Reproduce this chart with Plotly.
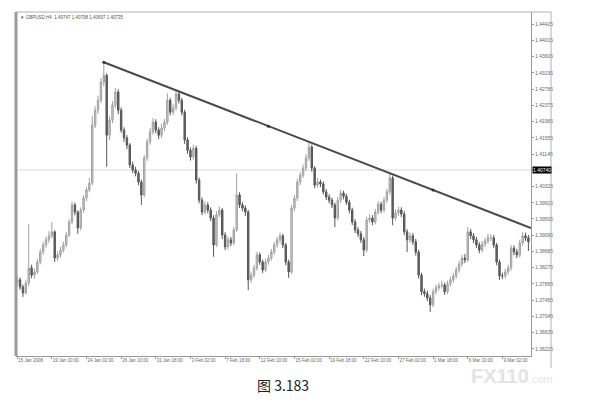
import plotly.graph_objects as go

# ---------------- data ----------------
first_open = 1.3790
closes = [
    1.3797, 1.3779, 1.3764, 1.3789, 1.3827, 1.3809, 1.3817, 1.3842, 1.3867, 1.3885,
    1.3898, 1.3908, 1.3918, 1.3852, 1.3860, 1.3872, 1.3885, 1.3910, 1.3943, 1.3986,
    1.3968, 1.3928, 1.3973, 1.4003, 1.4024, 1.4041, 1.4187, 1.4225, 1.4250, 1.4296,
    1.4313, 1.4162, 1.4200, 1.4238, 1.4271, 1.4225, 1.4175, 1.4155, 1.4137, 1.4087,
    1.4074, 1.4066, 1.4044, 1.4011, 1.4104, 1.4145, 1.4170, 1.4195, 1.4175, 1.4162,
    1.4180, 1.4195, 1.4250, 1.4220, 1.4230, 1.4266, 1.4250, 1.4220, 1.4150, 1.4124,
    1.4107, 1.4129, 1.4049, 1.3998, 1.3968, 1.3986, 1.3973, 1.3953, 1.3885, 1.3961,
    1.3973, 1.3910, 1.3880, 1.3898, 1.3890, 1.3923, 1.4011, 1.3986, 1.3978, 1.3968,
    1.3797, 1.3809, 1.3827, 1.3860, 1.3842, 1.3822, 1.3842, 1.3852, 1.3867, 1.3885,
    1.3898, 1.3908, 1.3885, 1.3842, 1.3817, 1.3978, 1.4003, 1.4044, 1.4061, 1.4079,
    1.4104, 1.4132, 1.4079, 1.4036, 1.4044, 1.4039, 1.4019, 1.4006, 1.3998, 1.3986,
    1.3953, 1.3998, 1.4016, 1.4008, 1.3993, 1.3973, 1.3943, 1.3923, 1.3913, 1.3898,
    1.3872, 1.3948, 1.3953, 1.3943, 1.3968, 1.3988, 1.3973, 1.3998, 1.4019, 1.4054,
    1.3953, 1.3966, 1.3973, 1.3963, 1.3918, 1.3898, 1.3908, 1.3893, 1.3867, 1.3809,
    1.3767, 1.3762, 1.3751, 1.3734, 1.3767, 1.3777, 1.3782, 1.3784, 1.3767, 1.3787,
    1.3797, 1.3807, 1.3822, 1.3837, 1.3852, 1.3847, 1.3918, 1.3908, 1.3898, 1.3885,
    1.3872, 1.3887, 1.3895, 1.3903, 1.3903, 1.3885, 1.3842, 1.3807, 1.3807, 1.3817,
    1.3827, 1.3877, 1.3867, 1.3860, 1.3890, 1.3908, 1.3903, 1.3893,
]
highs = [
    1.3806, 1.3803, 1.3785, 1.3796, 1.3938, 1.3835, 1.3825, 1.3850, 1.3875, 1.3893,
    1.3906, 1.3920, 1.3943, 1.3922, 1.3868, 1.3880, 1.3893, 1.3918, 1.3950, 1.3994,
    1.3992, 1.3972, 1.3980, 1.4011, 1.4031, 1.4054, 1.4210, 1.4235, 1.4262, 1.4306,
    1.4346, 1.4318, 1.4210, 1.4248, 1.4281, 1.4278, 1.4232, 1.4182, 1.4162, 1.4142,
    1.4095, 1.4082, 1.4072, 1.4050, 1.4112, 1.4153, 1.4180, 1.4205, 1.4202, 1.4182,
    1.4190, 1.4203, 1.4268, 1.4256, 1.4240, 1.4278, 1.4273, 1.4256, 1.4226, 1.4157,
    1.4131, 1.4138, 1.4135, 1.4055, 1.4005, 1.3995, 1.3993, 1.3980, 1.3960, 1.3970,
    1.3982, 1.3978, 1.3917, 1.3906, 1.3905, 1.3930, 1.4066, 1.4018, 1.3993, 1.3985,
    1.3973, 1.3818, 1.3835, 1.3868, 1.3866, 1.3848, 1.3850, 1.3860, 1.3875, 1.3893,
    1.3906, 1.3916, 1.3913, 1.3890, 1.3848, 1.3986, 1.4011, 1.4052, 1.4069, 1.4088,
    1.4114, 1.4145, 1.4138, 1.4084, 1.4054, 1.4050, 1.4045, 1.4026, 1.4013, 1.4004,
    1.3992, 1.4006, 1.4024, 1.4022, 1.4014, 1.3999, 1.3979, 1.3950, 1.3930, 1.3920,
    1.3905, 1.3956, 1.3962, 1.3960, 1.3976, 1.3996, 1.3994, 1.4006, 1.4027, 1.4066,
    1.4060, 1.3975, 1.3981, 1.3980, 1.3970, 1.3925, 1.3916, 1.3915, 1.3900, 1.3873,
    1.3815, 1.3775, 1.3770, 1.3758, 1.3775, 1.3785, 1.3790, 1.3795, 1.3790, 1.3795,
    1.3805, 1.3815, 1.3830, 1.3845, 1.3860, 1.3862, 1.3930, 1.3925, 1.3915, 1.3905,
    1.3892, 1.3895, 1.3903, 1.3913, 1.3912, 1.3910, 1.3890, 1.3848, 1.3815, 1.3825,
    1.3835, 1.3885, 1.3884, 1.3875, 1.3898, 1.3918, 1.3916, 1.3910,
]
lows = [
    1.3782, 1.3772, 1.3754, 1.3760, 1.3782, 1.3801, 1.3800, 1.3812, 1.3836, 1.3860,
    1.3878, 1.3890, 1.3902, 1.3842, 1.3845, 1.3853, 1.3866, 1.3879, 1.3905, 1.3938,
    1.3960, 1.3913, 1.3922, 1.3966, 1.3996, 1.4018, 1.4036, 1.4180, 1.4215, 1.4243,
    1.4285, 1.4082, 1.4150, 1.4192, 1.4230, 1.4215, 1.4168, 1.4145, 1.4127, 1.4079,
    1.4066, 1.4058, 1.4036, 1.3986, 1.4005, 1.4097, 1.4138, 1.4163, 1.4167, 1.4152,
    1.4155, 1.4172, 1.4188, 1.4212, 1.4213, 1.4224, 1.4242, 1.4212, 1.4140, 1.4115,
    1.4098, 1.4100, 1.4040, 1.3990, 1.3960, 1.3962, 1.3965, 1.3945, 1.3855, 1.3880,
    1.3955, 1.3900, 1.3872, 1.3873, 1.3882, 1.3884, 1.3918, 1.3978, 1.3970, 1.3958,
    1.3771, 1.3789, 1.3802, 1.3820, 1.3835, 1.3814, 1.3816, 1.3835, 1.3845, 1.3860,
    1.3878, 1.3890, 1.3877, 1.3834, 1.3802, 1.3812, 1.3970, 1.3996, 1.4036, 1.4054,
    1.4072, 1.4097, 1.4070, 1.4028, 1.4030, 1.4031, 1.4012, 1.3998, 1.3990, 1.3978,
    1.3930, 1.3947, 1.3991, 1.4000, 1.3986, 1.3965, 1.3935, 1.3915, 1.3905, 1.3890,
    1.3857, 1.3866, 1.3940, 1.3935, 1.3937, 1.3961, 1.3965, 1.3967, 1.3991, 1.4012,
    1.3935, 1.3946, 1.3958, 1.3955, 1.3910, 1.3867, 1.3890, 1.3885, 1.3858, 1.3800,
    1.3758, 1.3754, 1.3743, 1.3716, 1.3728, 1.3760, 1.3770, 1.3775, 1.3759, 1.3761,
    1.3780, 1.3790, 1.3800, 1.3815, 1.3830, 1.3839, 1.3842, 1.3900, 1.3890, 1.3877,
    1.3864, 1.3866, 1.3880, 1.3888, 1.3895, 1.3877, 1.3834, 1.3797, 1.3799, 1.3800,
    1.3810, 1.3820, 1.3859, 1.3852, 1.3853, 1.3883, 1.3895, 1.3870,
]
opens = [first_open] + closes[:-1]
bars = list(range(len(closes)))

time_tick_bars = [0, 12, 24, 36, 48, 60, 72, 84, 96, 108, 120, 132, 144, 156, 168]
time_tick_text = ["15 Jan 2008", "19 Jan 10:00", "24 Jan 02:00", "26 Jan 10:00",
                  "31 Jan 18:00", "3 Feb 02:00", "7 Feb 18:00", "12 Feb 10:00",
                  "15 Feb 02:00", "19 Feb 18:00", "22 Feb 10:00", "27 Feb 02:00",
                  "1 Mar 18:00", "6 Mar 10:00", "9 Mar 02:00"]
price_ticks = [1.36225, 1.36635, 1.37045, 1.37455, 1.37865, 1.38275, 1.38685,
               1.39095, 1.39505, 1.39915, 1.40325, 1.41145, 1.41555, 1.41965,
               1.42375, 1.42785, 1.43195, 1.43605, 1.44015, 1.44425]
price_line = 1.40740
trend_start_bar = 30
trend_touch_bar = 129
trend_anchor_bar = 144
header = "▼ GBPUSD,H4  1.40747 1.40798 1.40697 1.40735"
caption = "图 3.183"

# ---------------- figure ----------------
x_min, x_max = -0.4, 177.9
y_min, y_max = 1.36048, 1.44728
PL, PR, PT, PB = 16, 531, 12, 356   # plot area in pixels (for paper refs)


def px_x(px):
    return (px - PL) / (PR - PL)


def px_y(py):
    return (PB - py) / (PB - PT)


fig = go.Figure()
fig.add_trace(go.Candlestick(
    x=bars, open=opens, high=highs, low=lows, close=closes,
    increasing=dict(line=dict(color="#a0a0a0", width=1), fillcolor="#cccccc"),
    decreasing=dict(line=dict(color="#555555", width=1), fillcolor="#666666"),
    whiskerwidth=0, showlegend=False, hoverinfo="skip"))

# trendline defined by two highs, drawn as a ray to the right edge
y0 = highs[trend_start_bar]
slope = (highs[trend_touch_bar] - y0) / (trend_touch_bar - trend_start_bar)
fig.add_trace(go.Scatter(
    x=[trend_start_bar, x_max], y=[y0, y0 + slope * (x_max - trend_start_bar)],
    mode="lines", line=dict(color="#4a4a4a", width=2),
    showlegend=False, hoverinfo="skip"))
mid_bar = (trend_start_bar + trend_anchor_bar) / 2
pts = [trend_start_bar, mid_bar, trend_anchor_bar]
fig.add_trace(go.Scatter(
    x=pts, y=[y0 + slope * (p - trend_start_bar) for p in pts],
    mode="markers", marker=dict(color="#333", size=3),
    showlegend=False, hoverinfo="skip"))

fig.add_shape(type="line", xref="paper", yref="y", x0=0, x1=1,
              y0=price_line, y1=price_line, line=dict(color="#dadada", width=1),
              layer="below")
# frame lines
fig.add_shape(type="line", xref="paper", yref="paper", x0=0, x1=0, y0=0, y1=1,
              line=dict(color="#9a9a9a", width=3))
fig.add_shape(type="line", xref="paper", yref="paper", x0=0, x1=px_x(551), y0=1, y1=1,
              line=dict(color="#b0b0b0", width=1))
fig.add_shape(type="line", xref="paper", yref="paper", x0=px_x(551), x1=px_x(551),
              y0=px_y(368), y1=1, line=dict(color="#b0b0b0", width=1))

fig.add_annotation(x=1, y=price_line, xref="paper", yref="y", xanchor="left",
                   yanchor="middle", text="1.40740", showarrow=False, xshift=1,
                   bgcolor="black", font=dict(color="white", size=5, family="Arial"),
                   borderpad=0)
fig.add_annotation(x=0.004, y=0.997, xref="paper", yref="paper", xanchor="left",
                   yanchor="top", text=header, showarrow=False,
                   font=dict(color="#555", size=4.5, family="Arial"))
fig.add_annotation(x=px_x(283), y=px_y(385), xref="paper", yref="paper",
                   xanchor="center", yanchor="middle", text=caption, showarrow=False,
                   font=dict(color="#222", size=14, family="Noto Sans CJK SC"))
fig.add_annotation(x=px_x(469), y=px_y(376), xref="paper", yref="paper",
                   xanchor="left", yanchor="middle",
                   text="<b>FX110</b><span style='font-size:11px'>.com</span>",
                   showarrow=False,
                   font=dict(color="#e4e4e4", size=20, family="Arial"))

fig.update_layout(
    width=591, height=413,
    margin=dict(l=PL, r=591 - PR, t=PT, b=413 - PB, autoexpand=False),
    paper_bgcolor="white", plot_bgcolor="white",
    font=dict(family="Arial", color="#555"),
    xaxis=dict(range=[x_min, x_max], showgrid=False, zeroline=False,
               rangeslider=dict(visible=False), automargin=False,
               tickmode="array", tickvals=time_tick_bars, ticktext=time_tick_text,
               tickangle=0, ticks="outside", ticklen=2, tickcolor="#999",
               ticklabelposition="outside right",
               tickfont=dict(size=4.5, color="#666"),
               showline=True, linecolor="#999", linewidth=1),
    yaxis=dict(range=[y_min, y_max], side="right", showgrid=False, zeroline=False,
               automargin=False,
               tickmode="array", tickvals=price_ticks,
               ticktext=[f"{v:.5f}" for v in price_ticks],
               ticks="outside", ticklen=2, tickcolor="#999",
               tickfont=dict(size=5, color="#666"),
               showline=True, linecolor="#999", linewidth=1),
)

fig.write_html("out.html", config={"displayModeBar": False},
               post_script="document.body.style.margin='0';"
                           "document.body.style.overflow='hidden';")
